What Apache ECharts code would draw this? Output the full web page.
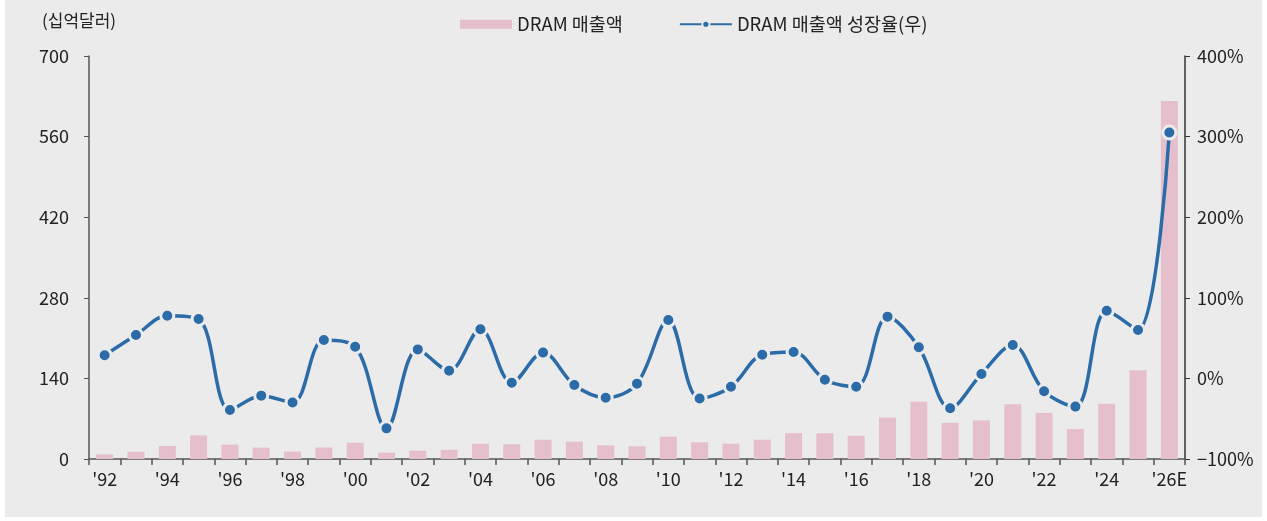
<!DOCTYPE html>
<html>
<head>
<meta charset="utf-8">
<script src="https://cdn.jsdelivr.net/npm/echarts@6/dist/echarts.min.js"></script>
<style>
    html, body { margin: 0; padding: 0; background: #ffffff; }
    #main { position: absolute; left: 5px; top: 0; width: 1257px; height: 517px; background: #ebebeb; }
</style>
</head>
<body>
<div id="main"></div>
<script>
// 연도
const years = ["'92", "'93", "'94", "'95", "'96", "'97", "'98", "'99", "'00", "'01",
    "'02", "'03", "'04", "'05", "'06", "'07", "'08", "'09", "'10", "'11",
    "'12", "'13", "'14", "'15", "'16", "'17", "'18", "'19", "'20", "'21",
    "'22", "'23", "'24", "'25", "'26E"];

// DRAM 매출액 (십억달러)
const dramSales = [8, 12.7, 22.6, 41, 25, 19.7, 13, 20, 28.4, 11,
    14.4, 16, 26.6, 25.5, 33.5, 30, 23.7, 22, 38.8, 29,
    26.6, 33.5, 45, 44.6, 40.5, 71.8, 99.6, 63, 67, 95,
    80, 52, 96, 154, 622];

// DRAM 매출액 성장율 (%)
const dramGrowth = [28.7, 53.8, 77.8, 73.7, -39.2, -21.4, -30, 47.6, 39.3, -62,
    36, 9.6, 61, -5.3, 32, -8.2, -24, -6.5, 72.4, -25,
    -10.3, 29.4, 32.8, -1.6, -10.3, 76.6, 38.6, -37, 5.5, 41.4,
    -16, -35, 84, 60, 305];

const leftTicks = {min: 0, max: 700, interval: 140};
const rightTicks = {min: -100, max: 400, interval: 100};

const font = '"Noto Sans CJK KR", "Noto Sans", sans-serif';
const txt = '#222222';
const axisColor = '#555555';

let myChart = echarts.init(document.getElementById('main'));
let option = {
    backgroundColor: '#ebebeb',
    textStyle: {fontFamily: font},
    title: {
        text: '(십억달러)',
        left: 32,
        top: 7,
        textStyle: {fontSize: 17, fontWeight: 'normal', color: txt, fontFamily: font}
    },
    legend: {
        top: 10,
        left: 450,
        itemGap: 56,
        itemWidth: 52,
        itemHeight: 9,
        textStyle: {fontSize: 18.5, color: txt, fontFamily: font},
        data: [
            {name: 'DRAM 매출액', icon: 'rect'},
            {name: 'DRAM 매출액 성장율(우)'}
        ]
    },
    grid: {left: 84, right: 77, top: 56, bottom: 58},
    xAxis: {
        type: 'category',
        data: years,
        boundaryGap: true,
        axisLine: {lineStyle: {color: axisColor, width: 1.5}},
        axisTick: {show: true, interval: 0, length: 6, lineStyle: {color: axisColor, width: 1.5}},
        axisLabel: {interval: 1, color: txt, fontSize: 18, margin: 11, fontFamily: font}
    },
    yAxis: [
        {
            type: 'value',
            min: leftTicks.min, max: leftTicks.max, interval: leftTicks.interval,
            axisLine: {show: true, lineStyle: {color: axisColor, width: 1.5}},
            axisTick: {show: true, length: 5, lineStyle: {color: axisColor}},
            splitLine: {show: false},
            axisLabel: {color: txt, fontSize: 18, margin: 20, fontFamily: font}
        },
        {
            type: 'value',
            min: rightTicks.min, max: rightTicks.max, interval: rightTicks.interval,
            axisLine: {show: true, lineStyle: {color: '#333333', width: 1.5}},
            axisTick: {show: true, length: 5, lineStyle: {color: '#333333'}},
            splitLine: {show: false},
            axisLabel: {
                color: txt, fontSize: 18, margin: 12, fontFamily: font,
                formatter: function (v) {
                    return (v < 0 ? '\u2212' + Math.abs(v) : v) + '%';
                }
            }
        }
    ],
    series: [
        {
            name: 'DRAM 매출액',
            type: 'bar',
            yAxisIndex: 0,
            barWidth: 17,
            itemStyle: {color: '#e5bfcc'},
            data: dramSales
        },
        {
            name: 'DRAM 매출액 성장율(우)',
            type: 'line',
            yAxisIndex: 1,
            smooth: 0.35,
            symbol: 'circle',
            symbolSize: 13,
            lineStyle: {color: '#2b6ba7', width: 3.5},
            itemStyle: {color: '#2b6ba7', borderColor: '#ebebeb', borderWidth: 3},
            data: dramGrowth
        }
    ]
};
myChart.setOption(option);
</script>
</body>
</html>
